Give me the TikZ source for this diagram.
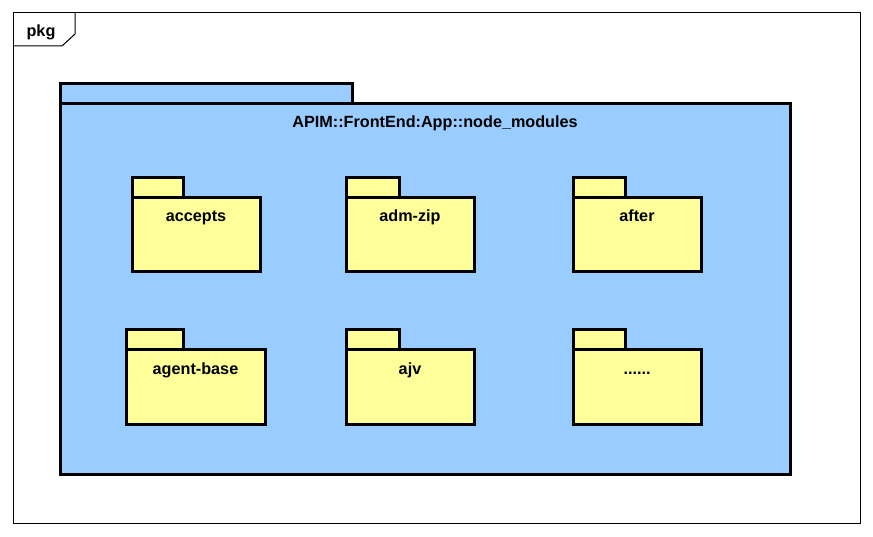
\documentclass[tikz,border=0pt]{standalone}
\usepackage{fontspec}
\setmainfont{Liberation Sans}
\usetikzlibrary{positioning}

\definecolor{pkgblue}{HTML}{99CCFF}
\definecolor{pkgyellow}{HTML}{FFFF99}

\tikzset{
  pkgfont/.style={font=\bfseries\fontsize{16.2}{19}\selectfont},
  pkgbody/.style={draw, line width=3pt, fill=#1, inner sep=0pt, outer sep=0pt,
    anchor=north west},
  pkgtab/.style={pkgbody=#1, minimum height=20, anchor=south west},
  pkgname/.style={pkgfont, anchor=base, inner sep=0pt, yshift=-24pt},
}
\newcommand{\moredots}{......}

\begin{document}
\begin{tikzpicture}[x=1pt, y=-1pt]
        \useasboundingbox (0,0) rectangle (873,537);

        % outer frame
        \draw[line width=1pt] (13,13) rectangle (860,523);
        \draw[line width=1pt] (13,46) -- (62,46) -- (75,34) -- (75,13);
        \node[pkgfont, anchor=base, inner sep=0pt] (pkglabel) at (41,37) {pkg};

        % node_modules package
        \node[pkgbody=pkgblue, minimum width=730, minimum height=370,
          label={[pkgname, xshift=10pt]north:APIM::FrontEnd:App::node\_modules}] (modules) at (60,104) {};
        \node[pkgtab=pkgblue, minimum width=292] (modulestab) at (modules.north west) {};

        % packages inside
        \foreach \name/\x/\y/\w/\tw/\txt in {accepts/132/198/128/51/accepts,
            admzip/346/198/128/53/adm-zip, after/573/198/128/52/after,
            agentbase/126/350/139/57/agent-base, ajv/346/350/128/53/ajv,
            more/573/350/128/52/\moredots}
        {
          \node[pkgbody=pkgyellow, minimum width=\w, minimum height=74,
            label={[pkgname]north:\txt}] (\name) at (\x,\y) {};
          \node[pkgtab=pkgyellow, minimum width=\tw] (\name tab) at (\name.north west) {};
        }
\end{tikzpicture}
\end{document}
